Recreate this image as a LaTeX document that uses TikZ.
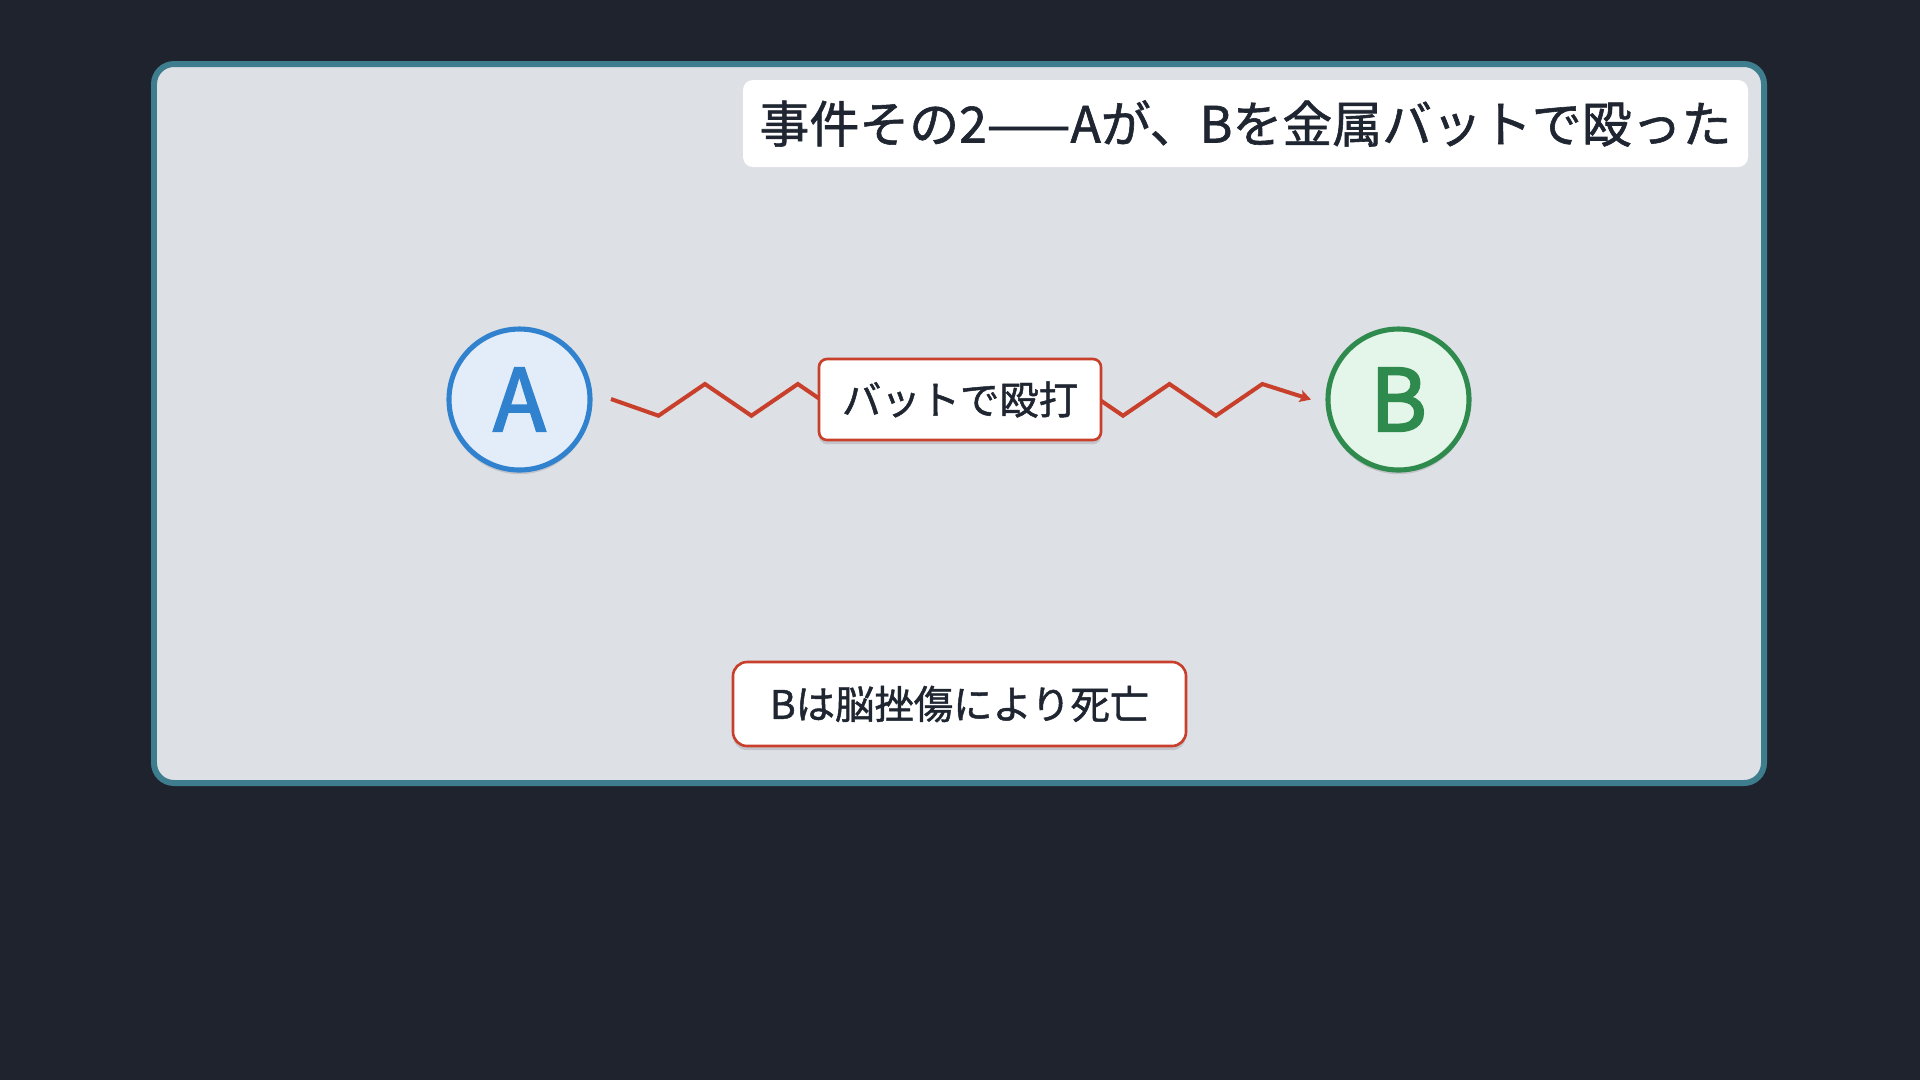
\documentclass[tikz,border=0pt]{standalone}
\usepackage{fontspec}
\setmainfont{Noto Sans CJK JP}
\newfontfamily\medfont{Noto Sans CJK JP}[FakeBold=1.2]
\newfontfamily\letterfont{Noto Sans CJK JP}[FakeBold=2.6]
\usepackage{tikz}
\usetikzlibrary{arrows.meta,shadows}
\definecolor{bgdark}{HTML}{1E232D}
\definecolor{frameteal}{HTML}{3E7D8D}
\definecolor{framefill}{HTML}{DDE0E5}
\definecolor{inkdark}{HTML}{1F2631}
\definecolor{ablue}{HTML}{3182CE}
\definecolor{ablueFill}{HTML}{E3EDF9}
\definecolor{bgreen}{HTML}{2F8A4E}
\definecolor{bgreenFill}{HTML}{E4F5E9}
\definecolor{hitred}{HTML}{C8402C}
\tikzset{
  softshadow/.style={drop shadow={shadow xshift=0pt,shadow yshift=-1.2pt,opacity=0.12,fill=black}},
  person/.style={circle,minimum size=14.1mm,inner sep=0pt,line width=1.45pt,softshadow,font=\letterfont\fontsize{24.5}{28}\selectfont},
  redbox/.style={draw=hitred,fill=white,line width=0.75pt,inner sep=0pt,text=inkdark,softshadow,font=\medfont\fontsize{11.2}{13}\selectfont}
}
\begin{document}
\begin{tikzpicture}[x=0.1mm,y=-0.1mm,semithick]
\fill[bgdark](0,0)rectangle(1920,1080);
\useasboundingbox(0,0)rectangle(1920,1080);
\draw[line width=1.7pt,draw=frameteal,fill=framefill,rounded corners=2mm](154,64)rectangle(1764,783);
\node[fill=white,rounded corners=1mm,minimum width=100.5mm,minimum height=8.7mm,inner sep=0pt,text=inkdark,font=\medfont\fontsize{14.2}{16}\selectfont](title)at(1245.5,123.5){事件その2——Aが、Bを金属バットで殴った};
\coordinate(za)at(611,399);
\coordinate(zb)at(1311,399.5);
\draw[hitred,line width=1.15pt,line join=miter,-{Stealth[length=1.1mm,width=1.2mm,inset=0.2mm]}](za)
  \foreach \k in {0,...,13}{--({658.5+46.45*\k},{399.85+15.85*(1-2*mod(\k,2))})}--(zb);
\node[person,draw=ablue,fill=ablueFill,text=ablue](A)at(519.5,399.5){A};
\node[person,draw=bgreen,fill=bgreenFill,text=bgreen](B)at(1398.5,399.5){B};
\node[redbox,rounded corners=0.8mm,minimum width=28.2mm,minimum height=8.1mm](hit)at(960,399.5){バットで殴打};
\node[redbox,rounded corners=1.4mm,minimum width=45.3mm,minimum height=8.4mm](death)at(959.5,704){Bは脳挫傷により死亡};
\end{tikzpicture}
\end{document}
